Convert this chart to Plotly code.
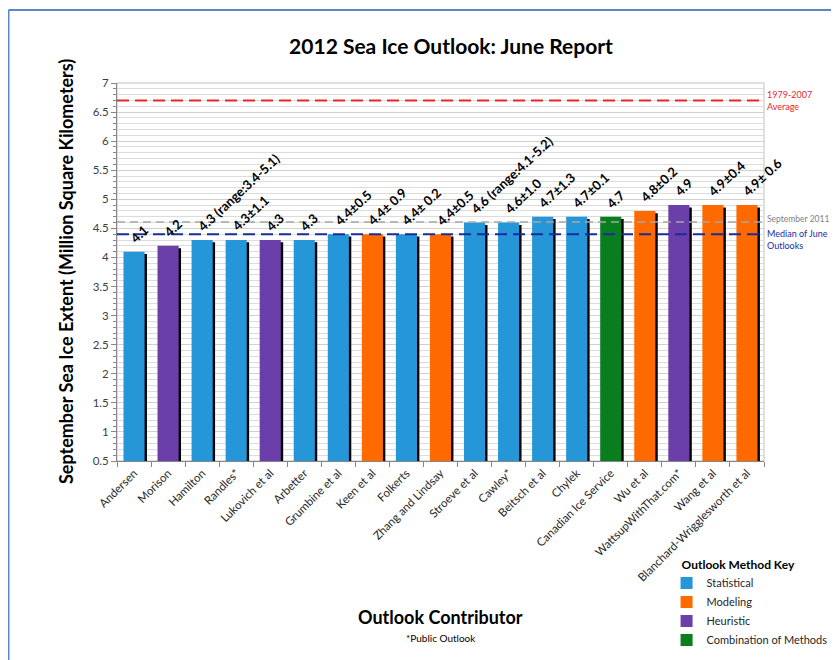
import plotly.graph_objects as go

contributors = ["Andersen", "Morison", "Hamilton", "Randles*", "Lukovich et al", "Arbetter",
                "Grumbine et al", "Keen et al", "Folkerts", "Zhang and Lindsay", "Stroeve et al",
                "Cawley*", "Beitsch et al", "Chylek", "Canadian Ice Service", "Wu et al",
                "WattsupWithThat.com*", "Wang et al", "Blanchard-Wrigglesworth et al"]
values = [4.1, 4.2, 4.3, 4.3, 4.3, 4.3, 4.4, 4.4, 4.4, 4.4, 4.6, 4.6, 4.7, 4.7, 4.7, 4.8, 4.9, 4.9, 4.9]
labels = ["4.1", "4.2", "4.3 (range:3.4-5.1)", "4.3±1.1", "4.3", "4.3", "4.4±0.5", "4.4± 0.9",
          "4.4± 0.2", "4.4±0.5", "4.6 (range:4.1-5.2)", "4.6±1.0", "4.7±1.3", "4.7±0.1", "4.7",
          "4.8±0.2", "4.9", "4.9±0.4", "4.9± 0.6"]
methods = ["Statistical", "Heuristic", "Statistical", "Statistical", "Heuristic", "Statistical",
           "Statistical", "Modeling", "Statistical", "Modeling", "Statistical", "Statistical",
           "Statistical", "Statistical", "Combination of Methods", "Modeling", "Heuristic",
           "Modeling", "Modeling"]
method_order = ["Statistical", "Modeling", "Heuristic", "Combination of Methods"]
method_colors = {"Statistical": "#2597D8", "Modeling": "#FF6A00",
                 "Heuristic": "#6B3FAA", "Combination of Methods": "#0A7D1E"}

ref_values = [6.7, 4.61, 4.4]
ref_labels = ["1979-2007<br>Average", "September 2011", "Median of June<br>Outlooks"]
ref_colors = ["#E8262B", "#A6A6A6", "#1A2B9C"]

FONT = "Lato"
fig = go.Figure()

# shadows
fig.add_trace(go.Bar(x=contributors, y=[v - 0.04 for v in values], width=0.62, offset=-0.24,
                     marker=dict(color="black", line=dict(width=0)), showlegend=False,
                     hoverinfo="skip"))
for m in method_order:
    xs = [c for c, mm in zip(contributors, methods) if mm == m]
    ys = [v for v, mm in zip(values, methods) if mm == m]
    fig.add_trace(go.Bar(x=xs, y=ys, name=m, width=0.62, offset=-0.31,
                         marker=dict(color=method_colors[m], line=dict(width=0))))

for c, v, t in zip(contributors, values, labels):
    fig.add_annotation(x=c, y=v, text="<b>" + t + "</b>", showarrow=False, textangle=-43,
                       xanchor="left", yanchor="bottom", xshift=-10, yshift=3,
                       font=dict(family=FONT, size=13, color="black"))

dashes = ["12px,6px", "8px,5px", "12px,6px"]
widths = [2, 1.5, 2]
for v, lab, col, d, w in zip(ref_values, ref_labels, ref_colors, dashes, widths):
    fig.add_shape(type="line", xref="paper", x0=0, x1=1, y0=v, y1=v, yref="y",
                  line=dict(color=col, width=w, dash=d), layer="above")
lab_col = ["#E8262B", "#7F7F7F", "#1A2B9C"]
fig.add_annotation(xref="paper", x=1.002, y=ref_values[0], text=ref_labels[0], showarrow=False,
                   xanchor="left", yanchor="middle", align="left",
                   font=dict(family=FONT, size=9, color=lab_col[0]))
fig.add_annotation(xref="paper", x=1.002, y=ref_values[1], text=ref_labels[1], showarrow=False,
                   xanchor="left", yanchor="middle", align="left", yshift=3,
                   font=dict(family=FONT, size=8.5, color=lab_col[1]))
fig.add_annotation(xref="paper", x=1.002, y=ref_values[2], text=ref_labels[2], showarrow=False,
                   xanchor="left", yanchor="top", align="left", yshift=8,
                   font=dict(family=FONT, size=9, color=lab_col[2]))

# plot area border (light)
fig.add_shape(type="rect", xref="paper", yref="paper", x0=0, x1=1, y0=0, y1=1,
              line=dict(color="#BFBFBF", width=1), layer="below")
# outer frame: only the left and top edges are inside the picture
fig.add_shape(type="line", xref="paper", yref="paper", x0=-0.1677, x1=-0.1677, y0=-0.6, y1=1.193,
              line=dict(color="#5B86C5", width=2), layer="below")
fig.add_shape(type="line", xref="paper", yref="paper", x0=-0.1677, x1=1.3, y0=1.193, y1=1.193,
              line=dict(color="#5B86C5", width=2), layer="below")

fig.add_annotation(xref="paper", yref="paper", x=-0.0788, y=0.5, textangle=-90,
                   text="<b>September Sea Ice Extent (Million Square Kilometers)</b>",
                   showarrow=False, xanchor="center", yanchor="middle",
                   font=dict(family=FONT, size=18, color="black"))
fig.add_annotation(xref="paper", yref="paper", x=0.5, y=-0.413,
                   text="<b>Outlook Contributor</b>", showarrow=False,
                   xanchor="center", yanchor="middle",
                   font=dict(family=FONT, size=18, color="black"))
fig.add_annotation(xref="paper", yref="paper", x=0.5, y=-0.468,
                   text="*Public Outlook", showarrow=False,
                   xanchor="center", yanchor="middle",
                   font=dict(family=FONT, size=10, color="black"))

# page body adds an 8px offset, so the figure is sized to stay inside the window
fig.update_layout(
    width=831, height=652,
    margin=dict(l=109, r=75, t=75, b=199, autoexpand=False),
    paper_bgcolor="white", plot_bgcolor="white",
    barmode="overlay",
    title=dict(text="<b>2012 Sea Ice Outlook: June Report</b>", x=443 / 831, xanchor="center",
               y=1 - 39 / 652, yanchor="middle", font=dict(family=FONT, size=21, color="black")),
    font=dict(family=FONT, size=12, color="#262626"),
    legend=dict(title=dict(text="<b>Outlook Method Key</b>", side="top",
                           font=dict(family=FONT, size=12, color="black")),
                x=0.8695, y=-0.2434, xanchor="left", yanchor="top", indentation=-13,
                font=dict(family=FONT, size=11, color="#262626"),
                bgcolor="rgba(0,0,0,0)", tracegroupgap=0),
    showlegend=True,
)
fig.update_xaxes(type="category", categoryorder="array", categoryarray=contributors,
                 tickangle=-45, ticks="outside", tickson="boundaries", ticklen=5,
                 tickcolor="#868686", showline=True, linecolor="#868686", linewidth=1,
                 showgrid=False, tickfont=dict(family=FONT, size=11.5, color="#262626"),
                 range=[-0.5, len(contributors) - 0.5], automargin=False)
fig.update_yaxes(range=[0.5, 7], dtick=0.5, tick0=0.5, showgrid=True, gridcolor="#D0D0D0",
                 gridwidth=1, ticks="outside", ticklen=5, tickcolor="#868686",
                 showline=True, linecolor="#868686", linewidth=1, zeroline=False,
                 tickfont=dict(family=FONT, size=11.5, color="#404040"), automargin=False,
                 minor=dict(dtick=0.1, tick0=0.5, showgrid=True, gridcolor="#DCDCDC",
                            ticks="outside", ticklen=3, tickcolor="#868686"))

fig.write_html("out.html")
